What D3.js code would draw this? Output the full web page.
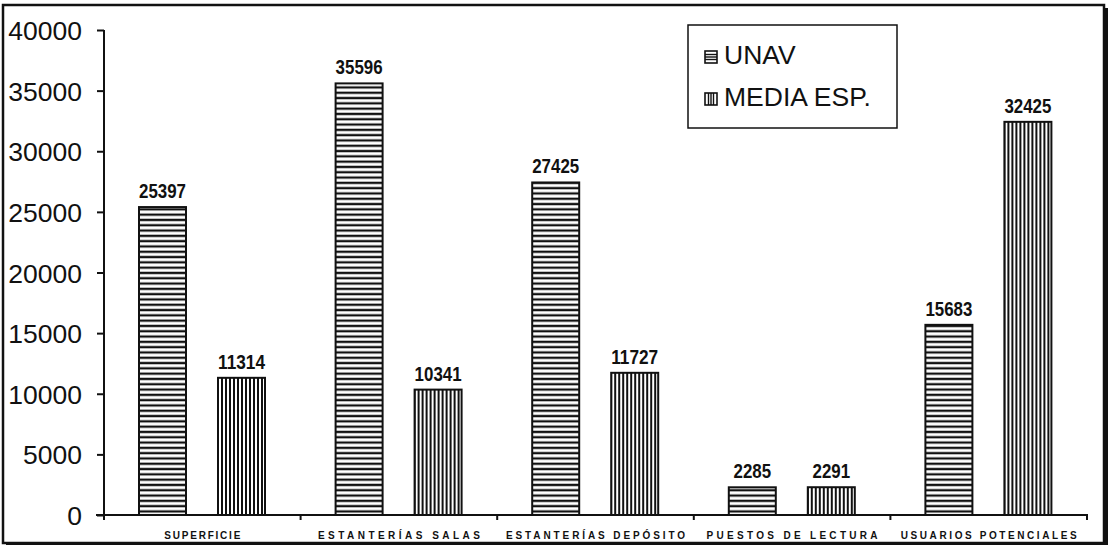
<!DOCTYPE html>
<html>
<head>
<meta charset="utf-8">
<script src="https://cdn.jsdelivr.net/npm/d3@7"></script>
<style>
  body { margin: 0; background: #fff; }
  svg { display: block; }
  .bold { font-family: "Liberation Sans", Arial, sans-serif; font-weight: bold; }
</style>
</head>
<body>
<div class="container"></div>
<script>
var categories = ['SUPERFICIE', 'ESTANTERÍAS SALAS', 'ESTANTERÍAS DEPÓSITO', 'PUESTOS DE LECTURA', 'USUARIOS POTENCIALES']
var series = ['UNAV', 'MEDIA ESP.']
var unav = [25397, 35596, 27425, 2285, 15683]
var media = [11314, 10341, 11727, 2291, 32425]
var yTicks = [0, 5000, 10000, 15000, 20000, 25000, 30000, 35000, 40000]

// printed widths of the spaced-out category captions
var captionWidth = {'SUPERFICIE': 76, 'ESTANTERÍAS SALAS': 162, 'ESTANTERÍAS DEPÓSITO': 179, 'PUESTOS DE LECTURA': 171, 'USUARIOS POTENCIALES': 176}

var width = 1113, height = 547
var svg = d3.select('.container').append('svg')
  .attr('width', width).attr('height', height)

var defs = svg.append('defs')
var hp = defs.append('pattern').attr('id', 'hatch-h')
  .attr('patternUnits', 'userSpaceOnUse').attr('width', 10).attr('height', 5.3)
hp.append('rect').attr('width', 10).attr('height', 5.3).attr('fill', '#fff')
hp.append('rect').attr('y', 1.5).attr('width', 10).attr('height', 2.3).attr('fill', '#111')

var vp = defs.append('pattern').attr('id', 'hatch-v')
  .attr('patternUnits', 'userSpaceOnUse').attr('width', 4).attr('height', 10)
vp.append('rect').attr('width', 4).attr('height', 10).attr('fill', '#fff')
vp.append('rect').attr('x', 1).attr('width', 2).attr('height', 10).attr('fill', '#111')

var fills = {'UNAV': 'url(#hatch-h)', 'MEDIA ESP.': 'url(#hatch-v)'}

// outer frame with heavy right edge
svg.append('rect').attr('x', 3).attr('y', 5).attr('width', 1101).attr('height', 538)
  .attr('fill', 'none').attr('stroke', '#111').attr('stroke-width', 2.5)
svg.append('rect').attr('x', 1103).attr('y', 8).attr('width', 5).attr('height', 537).attr('fill', '#111')
svg.append('rect').attr('x', 6).attr('y', 542).attr('width', 1100).attr('height', 3).attr('fill', '#111')

var x = d3.scaleBand().domain(categories).range([104, 1087]).padding(0)
var xi = d3.scaleBand().domain(series).range([35, 161]).paddingInner(32 / 79).paddingOuter(0)
var y = d3.scaleLinear().domain([0, 40000]).range([515, 30])

var rows = categories.map((c, i) => ({cat: c, vals: [{s: 'UNAV', v: unav[i]}, {s: 'MEDIA ESP.', v: media[i]}]}))

// y axis
var yAxis = svg.append('g').attr('transform', 'translate(104,0)')
  .call(d3.axisLeft(y).tickValues(yTicks).tickSize(7).tickPadding(15).tickFormat(d3.format('d')))
yAxis.select('.domain').attr('stroke', '#111').attr('stroke-width', 2).attr('d', 'M0,' + y(40000) + 'V' + y(0))
yAxis.selectAll('.tick line').attr('stroke', '#111').attr('stroke-width', 2)
yAxis.selectAll('.tick text')
  .attr('font-family', '"Liberation Sans", Arial, sans-serif')
  .attr('font-size', 26.5).attr('fill', '#111').attr('dy', '0.36em')

// x axis
var bounds = categories.map(c => x(c)).concat([x.range()[1]])
svg.append('line').attr('x1', 96).attr('x2', bounds[bounds.length - 1] + 1)
  .attr('y1', y(0)).attr('y2', y(0)).attr('stroke', '#111').attr('stroke-width', 2)
svg.selectAll('line.xtick').data(bounds).enter().append('line').attr('class', 'xtick')
  .attr('x1', d => d).attr('x2', d => d).attr('y1', y(0)).attr('y2', y(0) + 5)
  .attr('stroke', '#111').attr('stroke-width', 2)

svg.selectAll('text.cat').data(categories).enter().append('text').attr('class', 'cat bold')
  .attr('x', d => x(d) + x.bandwidth() / 2 - captionWidth[d] / 2)
  .attr('y', 539)
  .attr('font-size', 10)
  .attr('textLength', d => captionWidth[d])
  .attr('lengthAdjust', 'spacing')
  .attr('fill', '#111')
  .text(d => d)

// bars
var g = svg.selectAll('g.cat').data(rows).enter().append('g').attr('class', 'cat')
  .attr('transform', d => 'translate(' + x(d.cat) + ',0)')

g.selectAll('rect').data(d => d.vals).enter().append('rect')
  .attr('x', d => xi(d.s))
  .attr('y', d => y(d.v))
  .attr('width', xi.bandwidth())
  .attr('height', d => y(0) - y(d.v))
  .attr('fill', d => fills[d.s])
  .attr('stroke', '#111').attr('stroke-width', 2)

g.selectAll('text').data(d => d.vals).enter().append('text').attr('class', 'bold')
  .attr('x', d => xi(d.s) + xi.bandwidth() / 2 - String(d.v).length * 4.7)
  .attr('y', d => y(d.v) - 9)
  .attr('font-size', 19.5)
  .attr('textLength', d => String(d.v).length * 9.4)
  .attr('lengthAdjust', 'spacingAndGlyphs')
  .attr('fill', '#111')
  .text(d => d.v)

// legend
var lg = svg.append('g')
lg.append('rect').attr('x', 688).attr('y', 25).attr('width', 209).attr('height', 103)
  .attr('fill', '#fff').attr('stroke', '#111').attr('stroke-width', 1.5)

var items = lg.selectAll('g.item').data(series).enter().append('g').attr('class', 'item')
  .attr('transform', (d, i) => 'translate(705,' + (i ? 93 : 51) + ')')

items.append('rect').attr('width', 12).attr('height', 12)
  .attr('fill', '#fff').attr('stroke', '#111').attr('stroke-width', 1.6)
items.filter(d => d == 'UNAV').selectAll('line').data([3.5, 6, 8.5]).enter().append('line')
  .attr('x1', 0).attr('x2', 12).attr('y1', d => d).attr('y2', d => d)
  .attr('stroke', '#111').attr('stroke-width', 1.4)
items.filter(d => d != 'UNAV').selectAll('line').data([3.5, 6, 8.5]).enter().append('line')
  .attr('y1', 0).attr('y2', 12).attr('x1', d => d).attr('x2', d => d)
  .attr('stroke', '#111').attr('stroke-width', 1.4)

items.append('text')
  .attr('x', 19).attr('y', 13)
  .attr('font-family', '"Liberation Sans", Arial, sans-serif')
  .attr('font-size', 26.5)
  .attr('fill', '#111')
  .text(d => d)
</script>
</body>
</html>
